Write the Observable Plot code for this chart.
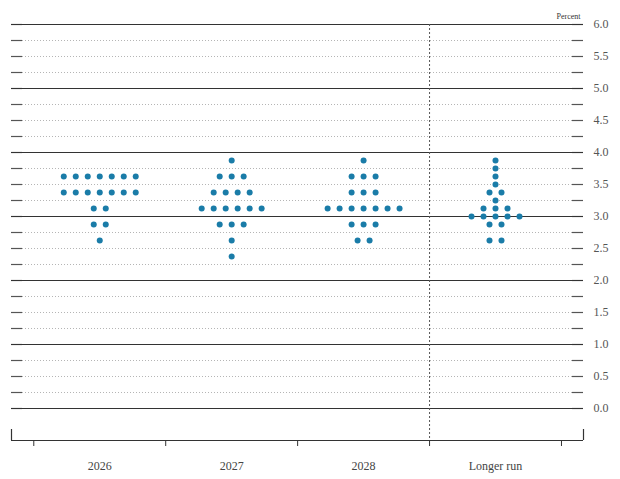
<!DOCTYPE html>
<html>
<head>
<meta charset="utf-8">
<script src="https://cdn.jsdelivr.net/npm/d3@7"></script>
<script src="https://cdn.jsdelivr.net/npm/@observablehq/plot@0.6"></script>
<style>
  html, body { margin: 0; padding: 0; background: #fff; }
  #chart svg { display: block; font-family: "Liberation Serif", "DejaVu Serif", serif !important; }
  #chart svg text { font-family: "Liberation Serif", "DejaVu Serif", serif !important; }
</style>
</head>
<body>
<div id="chart"></div>
<script>
// Categories (x) and tick labels
const periods = ["2026", "2027", "2028", "Longer run"];
const yTicks = [0, 0.5, 1, 1.5, 2, 2.5, 3, 3.5, 4, 4.5, 5, 5.5, 6];
const gridLevels = d3.range(0, 6.001, 0.25);

// Participants' projections: [rate midpoint, number of dots]
const dots2026 = [[3.625, 7], [3.375, 7], [3.125, 2], [2.875, 2], [2.625, 1]];
const dots2027 = [[3.875, 1], [3.625, 3], [3.375, 4], [3.125, 6], [2.875, 3], [2.625, 1], [2.375, 1]];
const dots2028 = [[3.875, 1], [3.625, 3], [3.375, 3], [3.125, 7], [2.875, 3], [2.625, 2]];
const dotsLonger = [[3.875, 1], [3.75, 1], [3.625, 1], [3.5, 1], [3.375, 2], [3.25, 1], [3.125, 3], [3.0, 5], [2.875, 2], [2.625, 2]];

const series = [dots2026, dots2027, dots2028, dotsLonger];
const step = 12 / 132; // spacing between dots within a row, in category units

const points = [];
series.forEach((rows, ci) => {
  rows.forEach(([rate, n]) => {
    for (let j = 0; j < n; j++) {
      points.push({period: periods[ci], x: ci + (j - (n - 1) / 2) * step, rate});
    }
  });
});

const xDomain = [-0.669, 3.667];
const boundaries = d3.range(-0.5, periods.length, 1); // -0.5, 0.5, 1.5, 2.5, 3.5
const divider = periods.length - 1.5; // between 2028 and Longer run
const serif = "Liberation Serif, Times New Roman, serif";

const chart = Plot.plot({
  width: 620,
  height: 479,
  marginLeft: 11,
  marginRight: 37,
  marginTop: 24,
  marginBottom: 39,
  style: {background: "#fff", fontFamily: serif, fontSize: "12px"},
  x: {domain: xDomain, axis: null, label: null},
  y: {domain: [-0.5, 6], axis: null, label: null},
  marks: [
    // dotted gridlines at quarter points
    Plot.ruleY(gridLevels.filter(d => d % 1 !== 0), {stroke: "#b5b5b5", strokeDasharray: "1,2", insetLeft: 11, insetRight: 11}),
    // short ticks at both ends
    Plot.ruleY(gridLevels, {stroke: "#555", strokeWidth: 1.2, insetRight: 561}),
    Plot.ruleY(gridLevels, {stroke: "#555", strokeWidth: 1.2, insetLeft: 561}),
    // solid integer lines
    Plot.ruleY(gridLevels.filter(d => d % 1 === 0), {stroke: "#333"}),
    // divider before longer run
    Plot.ruleX([divider], {stroke: "#555", strokeDasharray: "2,2"}),
    // bottom axis line
    Plot.ruleY([-0.5], {stroke: "#333", strokeWidth: 1.2}),
    // end ticks
    Plot.ruleX(xDomain, {stroke: "#333", strokeWidth: 1.2, insetTop: 405}),
    // boundary ticks
    Plot.axisX({ticks: boundaries, tickFormat: () => "", tickSize: 6, stroke: "#333", anchor: "bottom", label: null}),
    // category labels
    Plot.axisX({ticks: d3.range(periods.length), tickFormat: i => periods[i], tickSize: 0, tickPadding: 21, anchor: "bottom", fill: "#444", fontSize: 12, fontFamily: serif, label: null}),
    // y labels
    Plot.axisY({anchor: "right", ticks: yTicks, tickSize: 0, tickPadding: 10, tickFormat: d3.format(".1f"), fill: "#555", fontSize: 12, fontFamily: serif, label: null}),
    // Percent label
    Plot.text(["Percent"], {frameAnchor: "top-right", dx: -3, dy: -11, fontSize: 8, fill: "#333", textAnchor: "end", fontFamily: serif}),
    // dots
    Plot.dot(points, {x: "x", y: "rate", r: 3, fill: "#1a7ca8", stroke: null})
  ]
});

document.getElementById("chart").appendChild(chart);
</script>
</body>
</html>
